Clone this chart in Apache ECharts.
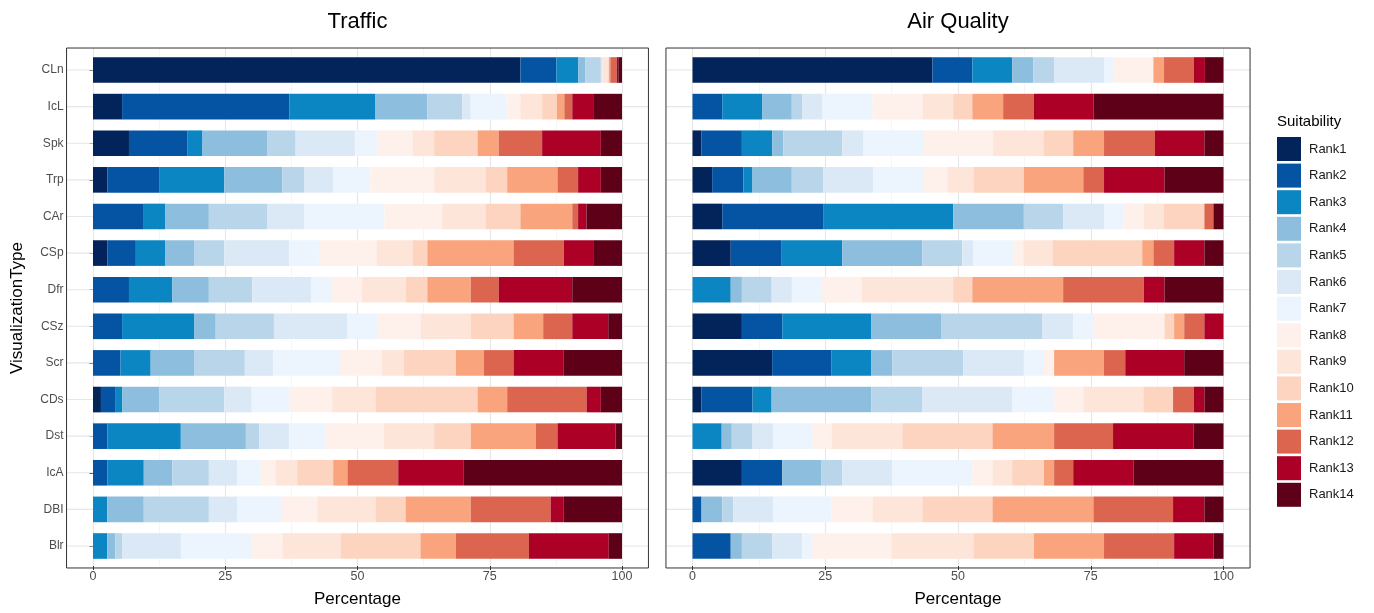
<!DOCTYPE html>
<html>
<head>
<meta charset="utf-8">
<title>Visualization suitability ranking</title>
<script src="https://cdn.jsdelivr.net/npm/echarts@6/dist/echarts.min.js"></script>
<style>
  html, body { margin: 0; padding: 0; background: #ffffff; }
  #chart { width: 1374px; height: 613px; }
</style>
</head>
<body>
<div id="chart"></div>
<script>
// Visualization types, top to bottom
const categories = ['CLn', 'IcL', 'Spk', 'Trp', 'CAr', 'CSp', 'Dfr', 'CSz', 'Scr', 'CDs', 'Dst', 'IcA', 'DBI', 'Blr'];

// Suitability ranks, stacked left to right
const ranks = ['Rank1', 'Rank2', 'Rank3', 'Rank4', 'Rank5', 'Rank6', 'Rank7',
               'Rank8', 'Rank9', 'Rank10', 'Rank11', 'Rank12', 'Rank13', 'Rank14'];

const rankColors = ['#03245a', '#0554a3', '#0b86c2', '#8dbedd', '#b9d5ea', '#dbe8f5', '#ecf4fd',
                    '#fef1ec', '#fde5da', '#fdd4bf', '#f9a47d', '#db654f', '#ac0027', '#5e0018'];

// Percentage axis ticks
const percentTicks = [0, 25, 50, 75, 100];

// Share (%) of each rank per visualization type — Traffic
const trafficShares = [
  [80.8, 6.8, 4.1, 1.4, 2.9, 0.3, 0, 0, 1.2, 0, 0.3, 1.2, 0.3, 0.7],      // CLn
  [5.5, 31.6, 16.3, 9.8, 6.6, 1.6, 6.8, 2.6, 4.1, 2.8, 1.4, 1.5, 4.1, 5.3], // IcL
  [6.8, 11.0, 2.9, 12.2, 5.4, 11.2, 4.2, 6.7, 4.1, 8.2, 4.0, 8.2, 11.1, 4.0], // Spk
  [2.7, 9.8, 12.3, 11.0, 4.1, 5.5, 7.0, 12.1, 9.7, 4.1, 9.5, 3.9, 4.3, 4.0], // Trp
  [0, 9.6, 4.1, 8.2, 11.0, 7.0, 15.2, 10.9, 8.2, 6.6, 9.8, 1.1, 1.6, 6.7],  // CAr
  [2.7, 5.4, 5.6, 5.4, 5.7, 12.3, 5.6, 10.9, 6.8, 2.8, 16.3, 9.5, 5.7, 5.3], // CSp
  [0, 6.8, 8.2, 6.9, 8.2, 11.1, 4.0, 5.6, 8.3, 4.1, 8.2, 5.3, 13.9, 9.4],   // Dfr
  [0, 5.5, 13.6, 4.1, 11.0, 13.9, 5.8, 8.0, 9.5, 8.1, 5.6, 5.5, 6.8, 2.6],  // CSz
  [0, 5.2, 5.7, 8.2, 9.6, 5.4, 12.6, 7.9, 4.2, 9.8, 5.3, 5.6, 9.5, 11.0],   // Scr
  [1.5, 2.8, 1.2, 7.0, 12.3, 5.2, 7.1, 8.1, 8.2, 19.3, 5.6, 15.0, 2.7, 4.0], // CDs
  [0, 2.7, 13.9, 12.3, 2.5, 5.7, 6.9, 11.0, 9.5, 6.9, 12.3, 4.1, 11.0, 1.2], // Dst
  [0, 2.7, 6.9, 5.4, 6.9, 5.4, 4.4, 2.8, 4.1, 6.8, 2.7, 9.6, 12.3, 30.0],   // IcA
  [0, 0, 2.7, 6.9, 12.3, 5.4, 8.4, 6.7, 11.0, 5.7, 12.3, 15.1, 2.5, 11.0],  // DBI
  [0, 0, 2.7, 1.5, 1.3, 11.1, 13.5, 5.7, 11.0, 15.1, 6.7, 13.8, 15.1, 2.5]  // Blr
];

// Share (%) of each rank per visualization type — Air Quality
const airQualityShares = [
  [45.2, 7.5, 7.5, 4.0, 3.9, 9.4, 1.9, 7.4, 0, 0, 2.0, 5.6, 2.1, 3.5],      // CLn
  [0, 5.6, 7.5, 5.6, 2.0, 3.7, 9.5, 9.4, 5.8, 3.6, 5.8, 5.8, 11.2, 24.5],   // IcL
  [1.7, 7.6, 5.7, 2.1, 11.1, 4.0, 11.4, 13.0, 9.5, 5.6, 5.8, 9.6, 9.3, 3.6], // Spk
  [3.7, 5.9, 1.7, 7.4, 5.9, 9.4, 9.6, 4.4, 4.9, 9.5, 11.2, 3.9, 11.4, 11.1], // Trp
  [5.6, 19.0, 24.5, 13.3, 7.4, 7.7, 3.6, 3.9, 3.8, 7.6, 0, 1.7, 0, 1.9],    // CAr
  [7.2, 9.6, 11.4, 15.1, 7.5, 2.1, 7.5, 1.9, 5.5, 16.9, 2.1, 3.9, 5.7, 3.6], // CSp
  [0, 0, 7.2, 2.1, 5.6, 3.8, 5.7, 7.5, 17.2, 3.6, 17.1, 15.2, 3.9, 11.1],   // Dfr
  [9.3, 7.6, 16.8, 13.1, 19.1, 5.8, 3.9, 13.3, 0, 1.8, 1.9, 3.8, 3.6, 0],   // CSz
  [15.0, 11.2, 7.5, 3.9, 13.4, 11.4, 3.8, 1.9, 0, 0, 9.4, 4.0, 11.1, 7.4],  // Scr
  [1.7, 9.6, 3.6, 18.8, 9.6, 16.9, 7.9, 5.5, 11.3, 5.6, 0, 3.9, 2.0, 3.6],  // CDs
  [0, 0, 5.5, 1.9, 3.9, 3.9, 7.4, 3.6, 13.3, 17.0, 11.6, 11.1, 15.2, 5.6],  // Dst
  [9.3, 7.6, 0, 7.4, 3.9, 9.4, 15.1, 3.8, 3.7, 6.0, 1.9, 3.6, 11.4, 16.9],  // IcA
  [0, 1.7, 0, 3.9, 2.1, 7.5, 11.0, 7.7, 9.4, 13.2, 19.0, 15.0, 5.9, 3.6],   // DBI
  [0, 7.2, 0, 2.1, 5.7, 5.6, 2.0, 14.9, 15.4, 11.4, 13.2, 13.2, 7.4, 1.9]   // Blr
];

const FONT = '"Liberation Sans", Arial, sans-serif';
const W = 1374, H = 613;

// Layout: each panel has an outer bordered box, a 0–100 scale region,
// and category bands (ggplot-style 0.6-band padding top and bottom).
const firstRowY = 70, lastRowY = 546;
const band = (lastRowY - firstRowY) / (categories.length - 1);
const bandTop = firstRowY - band / 2, bandBottom = lastRowY + band / 2;
const panelTop = firstRowY - 0.6 * band, panelBottom = lastRowY + 0.6 * band;

const panels = [
  { title: 'Traffic', shares: trafficShares, x0: 93, x100: 622, showY: true },
  { title: 'Air Quality', shares: airQualityShares, x0: 692.5, x100: 1223.5, showY: false }
];

const grids = [], xAxes = [], yAxes = [], series = [], graphics = [];

panels.forEach((p, pi) => {
  const pad = 0.05 * (p.x100 - p.x0);
  const gBorder = grids.length, gLines = gBorder + 1, gBars = gBorder + 2;

  // Panel border box
  grids.push({ left: p.x0 - pad, right: W - (p.x100 + pad), top: panelTop, bottom: H - panelBottom,
               show: true, borderColor: '#333333', borderWidth: 1, backgroundColor: 'rgba(0,0,0,0)', z: 3 });
  xAxes.push({ gridIndex: gBorder, type: 'value', show: false });
  yAxes.push({ gridIndex: gBorder, type: 'value', show: false });

  // Percentage axis with vertical grid lines across the full panel height
  grids.push({ left: p.x0, right: W - p.x100, top: panelTop, bottom: H - panelBottom });
  xAxes.push({
    gridIndex: gLines, type: 'value',
    min: percentTicks[0], max: percentTicks[percentTicks.length - 1],
    interval: percentTicks[1] - percentTicks[0],
    axisLine: { show: false },
    axisTick: { show: true, length: 4, lineStyle: { color: '#333333' } },
    axisLabel: { color: '#4d4d4d', fontSize: 12.5, fontFamily: FONT, margin: 4 },
    splitLine: { show: true, lineStyle: { color: '#e6e6e6', width: 1.1 } },
    minorTick: { show: false, splitNumber: 2 },
    minorSplitLine: { show: true, lineStyle: { color: '#f0f0f0', width: 0.6 } },
    name: 'Percentage', nameLocation: 'middle', nameGap: 25,
    nameTextStyle: { color: '#000000', fontSize: 17, fontFamily: FONT }
  });
  yAxes.push({ gridIndex: gLines, type: 'value', show: false });

  // Stacked bars
  grids.push({ left: p.x0, right: W - p.x100, top: bandTop, bottom: H - bandBottom });
  xAxes.push({ gridIndex: gBars, type: 'value', min: 0, max: 100, show: false });
  yAxes.push({
    gridIndex: gBars, type: 'category', data: categories, inverse: true,
    offset: pad,
    axisLine: { show: false },
    axisTick: { show: p.showY, alignWithLabel: true, length: 3.5, lineStyle: { color: '#333333' } },
    axisLabel: { show: p.showY, color: '#4d4d4d', fontSize: 12, fontFamily: FONT, margin: 3 },
    splitLine: { show: false },
    name: p.showY ? 'VisualizationType' : '',
    nameLocation: 'middle', nameGap: 41, nameRotate: 90,
    nameTextStyle: { color: '#000000', fontSize: 17, fontFamily: FONT }
  });

  // Horizontal grid line through each category, spanning the padded panel
  series.push({
    type: 'custom', xAxisIndex: gBars, yAxisIndex: gBars, z: 1, silent: true, clip: false,
    data: categories.map(c => [0, c]),
    encode: { x: 0, y: 1 },
    renderItem: (params, api) => {
      const a = api.coord([-5, api.value(1)]);
      const b = api.coord([105, api.value(1)]);
      return { type: 'line', shape: { x1: a[0], y1: a[1], x2: b[0], y2: b[1] },
               style: { stroke: '#e6e6e6', lineWidth: 1.1 } };
    }
  });

  ranks.forEach((r, ri) => {
    series.push({
      name: r, type: 'bar', stack: 'panel' + pi,
      xAxisIndex: gBars, yAxisIndex: gBars,
      barWidth: '70%', z: 2,
      itemStyle: { color: rankColors[ri] },
      emphasis: { disabled: true },
      data: p.shares.map(row => row[ri])
    });
  });

  graphics.push({
    type: 'text', x: (p.x0 + p.x100) / 2, y: 22,
    style: { text: p.title, fill: '#000000', font: '22px ' + FONT, textAlign: 'center', textVerticalAlign: 'middle' }
  });
});

graphics.push({
  type: 'text', x: 1277, y: 122,
  style: { text: 'Suitability', fill: '#000000', font: '15px ' + FONT, textAlign: 'left', textVerticalAlign: 'middle' }
});

const chart = echarts.init(document.getElementById('chart'), null, { renderer: 'canvas', width: W, height: H });
chart.setOption({
  animation: false,
  backgroundColor: '#ffffff',
  textStyle: { fontFamily: FONT },
  grid: grids,
  xAxis: xAxes,
  yAxis: yAxes,
  legend: {
    data: ranks, orient: 'vertical', left: 1272, top: 132,
    itemWidth: 24, itemHeight: 24, itemGap: 2.6, icon: 'rect',
    selectedMode: false,
    textStyle: { color: '#1a1a1a', fontSize: 13, fontFamily: FONT, padding: [0, 0, 0, 3] }
  },
  graphic: graphics,
  series: series
});
</script>
</body>
</html>
